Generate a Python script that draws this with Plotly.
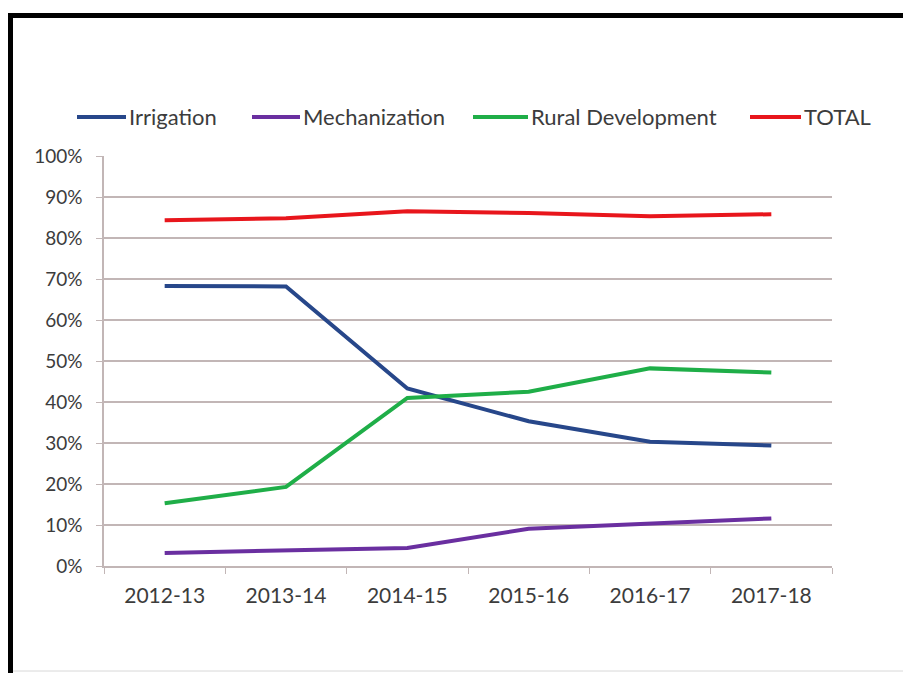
import plotly.graph_objects as go

# Fiscal years on the category axis
years = ["2012-13", "2013-14", "2014-15", "2015-16", "2016-17", "2017-18"]

# Share of each component (percent)
irrigation = [68.3, 68.2, 43.3, 35.3, 30.3, 29.4]
mechanization = [3.2, 3.8, 4.4, 9.1, 10.4, 11.6]
rural_development = [15.3, 19.3, 41.0, 42.5, 48.2, 47.2]
total = [84.3, 84.8, 86.5, 86.1, 85.3, 85.8]

y_ticks = [0, 10, 20, 30, 40, 50, 60, 70, 80, 90, 100]
y_tick_labels = [f"{v}%" for v in y_ticks]

series = [
    ("Irrigation", irrigation, "#27478a"),
    ("Mechanization", mechanization, "#6a2fa0"),
    ("Rural Development", rural_development, "#1fae48"),
    ("TOTAL", total, "#e8161c"),
]

W, H = 903, 673
PL, PR, PT, PB = 104, 832, 156, 566  # plot area in pixels


def px_x(x):
    return (x - PL) / (PR - PL)


def px_y(y):
    return (PB - y) / (PB - PT)


FONT = "Lato"
TEXT_COLOR = "#3c3c3c"
grid_color = "#c2b6b6"

fig = go.Figure()
for name, vals, color in series:
    fig.add_trace(go.Scatter(
        x=years, y=vals, name=name, mode="lines",
        line=dict(color=color, width=4),
        showlegend=False,
    ))

shapes = [
    # heavy black frame along the top and left edges
    dict(type="rect", xref="paper", yref="paper",
         x0=px_x(8), x1=px_x(W + 5), y0=px_y(18), y1=px_y(13),
         fillcolor="black", line=dict(width=0), layer="above"),
    dict(type="rect", xref="paper", yref="paper",
         x0=px_x(8), x1=px_x(13), y0=px_y(H + 5), y1=px_y(13),
         fillcolor="black", line=dict(width=0), layer="above"),
    # faint line along the bottom edge
    dict(type="line", xref="paper", yref="paper",
         x0=px_x(13), x1=px_x(W), y0=px_y(671), y1=px_y(671),
         line=dict(color="#d8d8d8", width=1), layer="above"),
]

# legend row above the plot: key line running into each label
LEGEND_Y = 117
key_spans = [(77, 126), (252, 300), (473, 528), (750, 801)]
annotations = []
for (name, vals, color), (k0, k1) in zip(series, key_spans):
    shapes.append(dict(
        type="line", xref="paper", yref="paper",
        x0=px_x(k0), x1=px_x(k1),
        y0=px_y(LEGEND_Y), y1=px_y(LEGEND_Y),
        line=dict(color=color, width=4), layer="above",
    ))
    annotations.append(dict(
        text=name, xref="paper", yref="paper",
        x=px_x(k1 + 1), y=px_y(LEGEND_Y), xanchor="left", yanchor="middle",
        showarrow=False, font=dict(family=FONT, size=22, color=TEXT_COLOR),
    ))

fig.update_layout(
    width=W, height=H,
    margin=dict(l=PL, r=W - PR, t=PT, b=H - PB),
    paper_bgcolor="white", plot_bgcolor="white",
    font=dict(family=FONT, color=TEXT_COLOR),
    showlegend=False,
    shapes=shapes,
    annotations=annotations,
)

fig.update_xaxes(
    type="category", categoryorder="array", categoryarray=years,
    range=[-0.5, len(years) - 0.5],
    showline=True, linecolor=grid_color, linewidth=1.5,
    showgrid=False, zeroline=False,
    ticks="outside", tickson="boundaries", ticklen=6, tickcolor=grid_color,
    tickfont=dict(family=FONT, size=21, color=TEXT_COLOR),
    ticklabelstandoff=10,
)
fig.update_yaxes(
    range=[0, 100], tickvals=y_ticks, ticktext=y_tick_labels,
    showline=True, linecolor=grid_color, linewidth=1.5,
    showgrid=True, gridcolor=grid_color, gridwidth=1.5, zeroline=False,
    ticks="outside", ticklen=6, tickcolor=grid_color,
    tickfont=dict(family=FONT, size=19, color=TEXT_COLOR),
    ticklabelstandoff=10,
)

fig.write_html("out.html")
